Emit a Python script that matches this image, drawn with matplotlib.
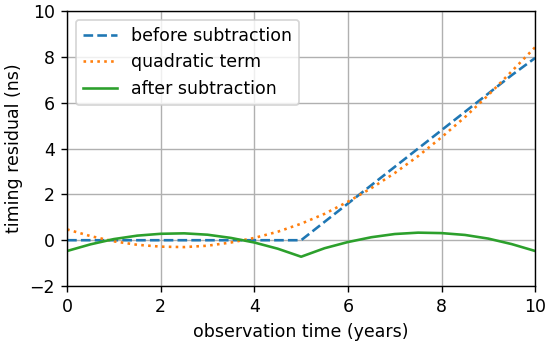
import matplotlib.pyplot as plt

# observation times (years)
tiempo = [0, 0.5, 1, 1.5, 2, 2.5, 3, 3.5, 4, 4.5, 5,
          5.5, 6, 6.5, 7, 7.5, 8, 8.5, 9, 9.5, 10]

# timing residuals (ns)
antes = [0, 0, 0, 0, 0, 0, 0, 0, 0, 0, 0,
         0.8, 1.6, 2.4, 3.2, 4.0, 4.8, 5.6, 6.4, 7.2, 7.95]
cuadratico = [0.47, 0.18, -0.05, -0.2, -0.28, -0.3, -0.24, -0.1, 0.1, 0.37, 0.72,
              1.15, 1.68, 2.27, 2.93, 3.67, 4.49, 5.37, 6.33, 7.37, 8.42]
despues = [-0.47, -0.18, 0.05, 0.2, 0.28, 0.3, 0.24, 0.1, -0.1, -0.37, -0.72,
           -0.35, -0.08, 0.13, 0.27, 0.33, 0.31, 0.23, 0.07, -0.17, -0.47]

# figura pequeña a 125 dpi -> 550x343 px
fig = plt.figure(figsize=(4.4, 2.744), dpi=125)
ax = fig.add_axes([0.122, 0.166, 0.851, 0.802])

ax.plot(tiempo, antes, '--', label='before subtraction')
ax.plot(tiempo, cuadratico, ':', label='quadratic term')
ax.plot(tiempo, despues, '-', label='after subtraction')

ax.set_xlim(0, 10)
ax.set_ylim(-2, 10)
ax.set_xlabel('observation time (years)')
ax.set_ylabel('timing residual (ns)')
ax.grid(True)
ax.legend(loc='upper left')

fig.savefig('out.png', dpi=125)
